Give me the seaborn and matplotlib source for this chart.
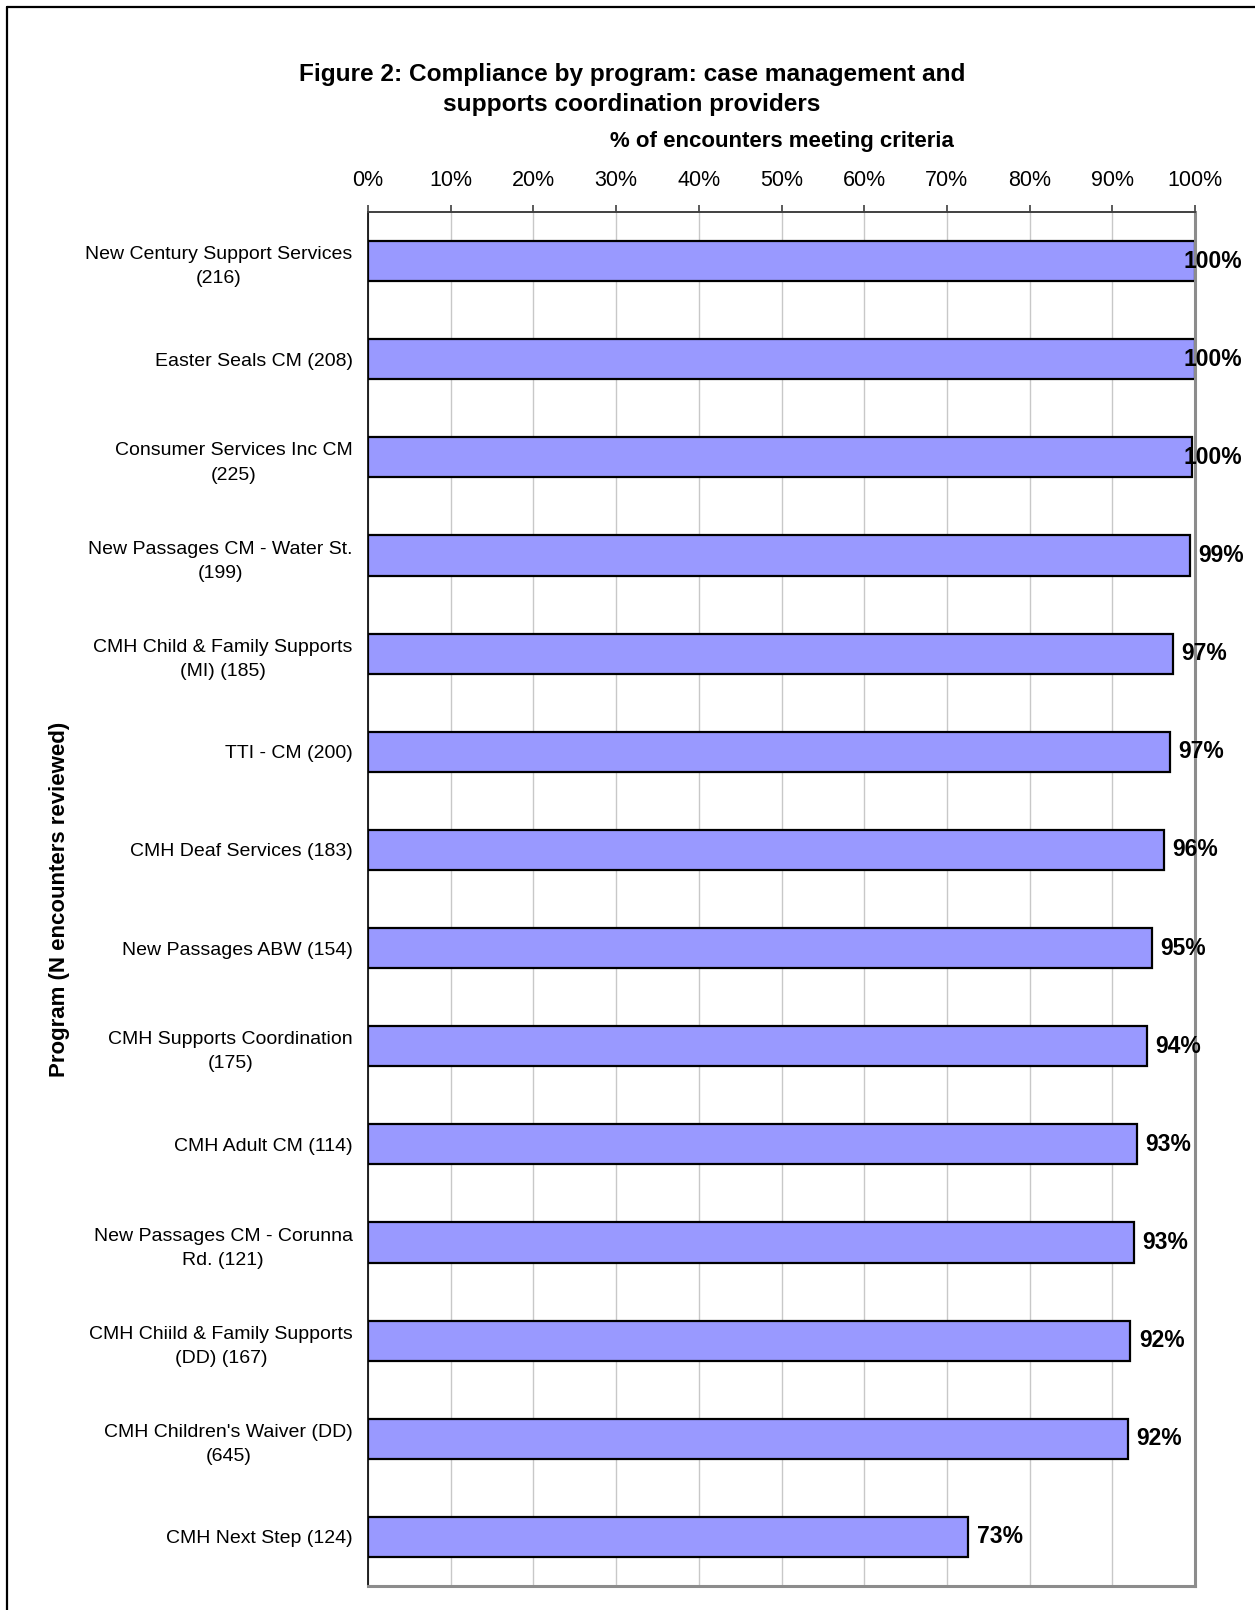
import matplotlib
matplotlib.use("Agg")
import matplotlib.pyplot as plt
from matplotlib.lines import Line2D
from matplotlib.ticker import MultipleLocator, FixedLocator, PercentFormatter
import seaborn as sns
import pandas as pd

# data
programs = [
    "New Century Support Services\n(216)",
    "Easter Seals CM (208)",
    "Consumer Services Inc CM\n(225)",
    "New Passages CM - Water St.\n(199)",
    "CMH Child & Family Supports\n(MI) (185)",
    "TTI - CM (200)",
    "CMH Deaf Services (183)",
    "New Passages ABW (154)",
    "CMH Supports Coordination\n(175)",
    "CMH Adult CM (114)",
    "New Passages CM - Corunna\nRd. (121)",
    "CMH Chiild & Family Supports\n(DD) (167)",
    "CMH Children's Waiver (DD)\n(645)",
    "CMH Next Step (124)",
]
pct_met = [100, 100, 99.6, 99.4, 97.3, 97.0, 96.2, 94.8, 94.2, 93.0, 92.6, 92.2, 91.9, 72.6]

df = pd.DataFrame({"program": programs, "pct": pct_met})

sns.set_style("white")
plt.rcParams["font.family"] = ["Liberation Sans", "DejaVu Sans"]
plt.rcParams["text.color"] = "black"
plt.rcParams["axes.labelcolor"] = "black"

W, H = 1255, 1610
fig = plt.figure(figsize=(W / 100, H / 100), dpi=100)
ax_h = (1586 - 212) / H
ax = fig.add_axes([368 / W, 1 - 1586 / H, (1195 - 368) / W, ax_h])

sns.barplot(data=df, x="pct", y="program", orient="h", color="#9999FF",
            saturation=1, edgecolor="black", linewidth=1.6, width=0.41, ax=ax)

ax.set_xlim(0, 100)
ax.set_ylim(len(programs) - 0.5, -0.5)
ax.xaxis.set_major_locator(MultipleLocator(10))
ax.xaxis.set_major_formatter(PercentFormatter(decimals=0))
ax.xaxis.tick_top()
ax.xaxis.set_label_position("top")
ax.tick_params(axis="x", direction="out", length=5, width=1.2, color="#404040",
               pad=10, labelsize=15.5, labelcolor="black")
ax.tick_params(axis="y", which="major", length=0, pad=11, labelsize=14, labelcolor="black")
ax.yaxis.set_minor_locator(FixedLocator([i - 0.5 for i in range(len(programs) + 1)]))
ax.tick_params(axis="y", which="minor", direction="out", length=4.5, width=1, color="black")
for lab in ax.get_yticklabels():
    lab.set_multialignment("center")
    lab.set_linespacing(1.55)

ax.grid(axis="x", color="#c8c8c8", linewidth=1)
ax.set_axisbelow(True)

ax.spines["left"].set_color("black")
ax.spines["left"].set_linewidth(1.2)
ax.spines["top"].set_color("#404040")
ax.spines["top"].set_linewidth(1.4)
for s in ("right", "bottom"):
    ax.spines[s].set_color("#8c8c8c")
    ax.spines[s].set_linewidth(2.2)

ax.set_xlabel("% of encounters meeting criteria", fontsize=16, fontweight="bold", va="center")
ax.xaxis.set_label_coords(0.5, (1586 - 141) / (1586 - 212))
ax.set_ylabel("Program (N encounters reviewed)", fontsize=16, fontweight="bold", va="center")
ax.yaxis.set_label_coords((60 - 368) / (1195 - 368), 0.5)

# value labels; ones near 100% get pulled back inside the chart
for i, v in enumerate(pct_met):
    txt = f"{v:.0f}%"
    if v >= 99.45:
        ax.text(105.7, i, txt, ha="right", va="center", fontsize=16.5,
                fontweight="bold", clip_on=False)
    else:
        ax.text(v + 1.0, i, txt, ha="left", va="center", fontsize=16.5,
                fontweight="bold", clip_on=False)

fig.text(632 / W, 1 - 74 / H, "Figure 2: Compliance by program: case management and",
         ha="center", va="center", fontsize=17.6, fontweight="bold")
fig.text(632 / W, 1 - 104 / H, "supports coordination providers",
         ha="center", va="center", fontsize=17.6, fontweight="bold")

# outer frame (only top and left edges fall inside the image)
fig.add_artist(Line2D([7 / W, 7 / W], [0, 1 - 7 / H], color="black", linewidth=1.6))
fig.add_artist(Line2D([7 / W, 1], [1 - 7 / H, 1 - 7 / H], color="black", linewidth=1.6))

fig.savefig("out.png", dpi=100, facecolor="white")
